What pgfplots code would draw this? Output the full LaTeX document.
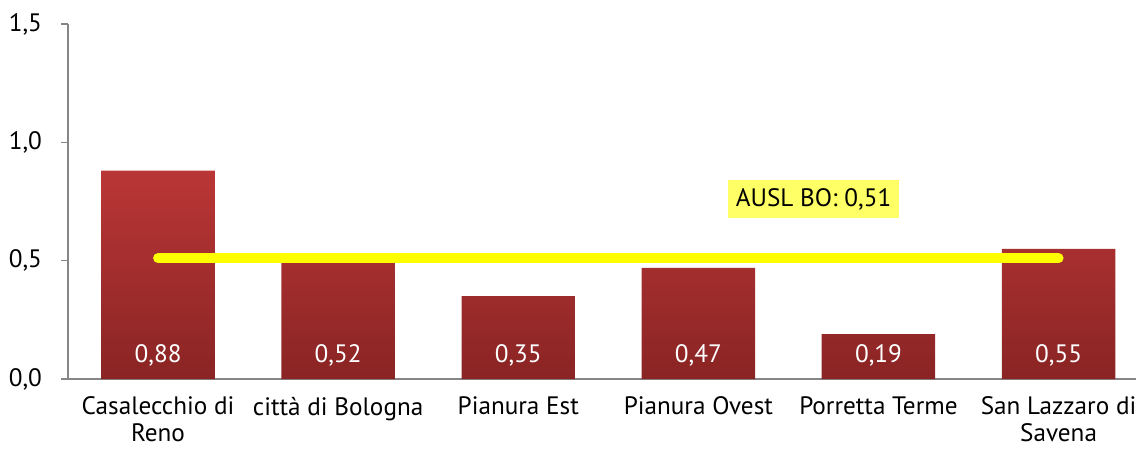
\documentclass[border=0pt]{standalone}
\usepackage{pgfplots}
\pgfplotsset{compat=1.18}
\usepackage{fontspec}
\setmainfont{PT Sans}

\definecolor{bartop}{RGB}{186,54,54}
\definecolor{barbot}{RGB}{138,36,36}
\definecolor{axisgrey}{RGB}{134,134,134}
\definecolor{lineyel}{RGB}{255,255,0}
\definecolor{boxyel}{RGB}{255,255,102}

\begin{document}
\begin{tikzpicture}
    % fixed frame, 1px of the reference = 0.5pt
    \path[use as bounding box] (-34pt,-38pt) rectangle (534pt,189.5pt);
    \begin{axis}[
        at={(0pt,0pt)}, anchor=south west,
        width=534pt,
        height=177.5pt,
        scale only axis,
        xmin=-0.5, xmax=5.43,
        ymin=0, ymax=1.5,
        axis lines=left,
        axis line style={-, axisgrey, line width=0.8pt},
        ytick={0,0.5,1,1.5},
        xtick={0,1,2,3,4,5},
        xticklabels={{Casalecchio di\\Reno},{città di Bologna},{Pianura Est},{Pianura Ovest},{Porretta Terme},{San Lazzaro di\\Savena}},
        xticklabel style={align=center, font=\fontsize{12.6}{13.4}\selectfont, yshift=-6pt, inner ysep=1pt},
        x tick style={draw=none},
        extra x ticks={-0.5,0.5,1.5,2.5,3.5,4.5},
        extra x tick labels={},
        extra x tick style={tick style={axisgrey, line width=0.8pt, draw=axisgrey}, major tick length=5pt, tick pos=left, xtick align=outside},
        y tick style={axisgrey, line width=0.8pt},
        ytick align=outside,
        major tick length=3.5pt,
        yticklabel style={font=\fontsize{12.6}{14}\selectfont, xshift=-6pt},
        /pgf/number format/.cd, use comma, fixed, fixed zerofill, precision=1,
        /pgf/number format/assume math mode=true,
        /pgfplots/.cd,
        clip=false,
    ]
        \addplot[ybar, bar width=0.63, draw=none, top color=bartop, bottom color=barbot]
        coordinates {(0,0.88)(1,0.52)(2,0.35)(3,0.47)(4,0.19)(5,0.55)};

        \addplot[draw=none, mark=none,
            nodes near coords, point meta=explicit symbolic,
            every node near coord/.append style={anchor=center, white, font=\fontsize{12.6}{14}\selectfont}]
        table[meta=lab] {
x y lab
0 0.098 0,88
1 0.098 0,52
2 0.098 0,35
3 0.098 0,47
4 0.098 0,19
5 0.098 0,55
};

        \addplot[lineyel, line width=5pt, line cap=round, mark=none]
        coordinates {(0,0.51)(5,0.51)};

        \node[fill=boxyel, font=\fontsize{12.6}{14}\selectfont, inner xsep=4pt, inner ysep=4pt] at (axis cs:3.64,0.76) {AUSL BO: 0,51};
    \end{axis}
\end{tikzpicture}
\end{document}
